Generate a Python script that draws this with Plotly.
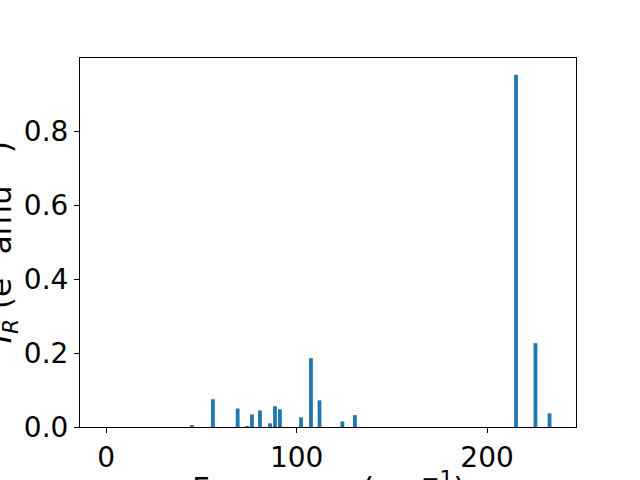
import plotly.graph_objects as go

freq = [45, 56, 69, 74, 76.5, 80.7, 86, 88.6, 91.2, 102.3, 107.5, 112, 124, 130.6, 215.2, 225.4, 232.8]
intensity = [0.005, 0.075, 0.050, 0.002, 0.034, 0.045, 0.010, 0.056, 0.048, 0.026, 0.186, 0.072, 0.015, 0.032, 0.952, 0.2265, 0.037]
xticks = [0, 100, 200]
yticks = [0.0, 0.2, 0.4, 0.6, 0.8]
ytick_labels = ["0.0", "0.2", "0.4", "0.6", "0.8"]

FONT = "DejaVu Sans"
FS = 28
LFS = 31

fig = go.Figure(go.Bar(x=freq, y=intensity, width=2.0, marker=dict(color="#1f77b4", line=dict(width=0))))

fig.update_layout(
    width=640, height=480,
    margin=dict(l=80, r=64, t=58, b=53, autoexpand=False),
    paper_bgcolor="white", plot_bgcolor="white",
    showlegend=False,
    font=dict(family=FONT, size=FS, color="black"),
    xaxis=dict(range=[-13.8, 246.7], tickvals=xticks, ticks="outside", ticklen=5, tickwidth=1,
               tickcolor="black", showline=True, linecolor="black", linewidth=1, mirror=True,
               showgrid=False, zeroline=False, tickfont=dict(size=FS), automargin=False),
    yaxis=dict(range=[0, 0.9975], tickvals=yticks, ticktext=ytick_labels, ticks="outside", ticklen=5,
               tickwidth=1, tickcolor="black", showline=True, linecolor="black", linewidth=1, mirror=True,
               showgrid=False, zeroline=False, tickfont=dict(size=FS), automargin=False),
    annotations=[
        dict(text="Frequency (cm<sup>\u22121</sup>)", xref="paper", yref="paper", x=0.5, y=-0.100,
             xanchor="center", yanchor="top", showarrow=False, font=dict(size=LFS)),
        dict(text="<i>I</i><sub><i>R</i></sub> (e<sup>2</sup> amu<sup>\u22121</sup>)", xref="paper", yref="paper",
             x=-0.160, y=0.5, xanchor="center", yanchor="middle", textangle=-90, showarrow=False,
             font=dict(size=LFS)),
    ],
)

fig.write_html("out.html", config={"displayModeBar": False},
               post_script="document.body.style.margin='0';document.body.style.overflow='hidden';")
